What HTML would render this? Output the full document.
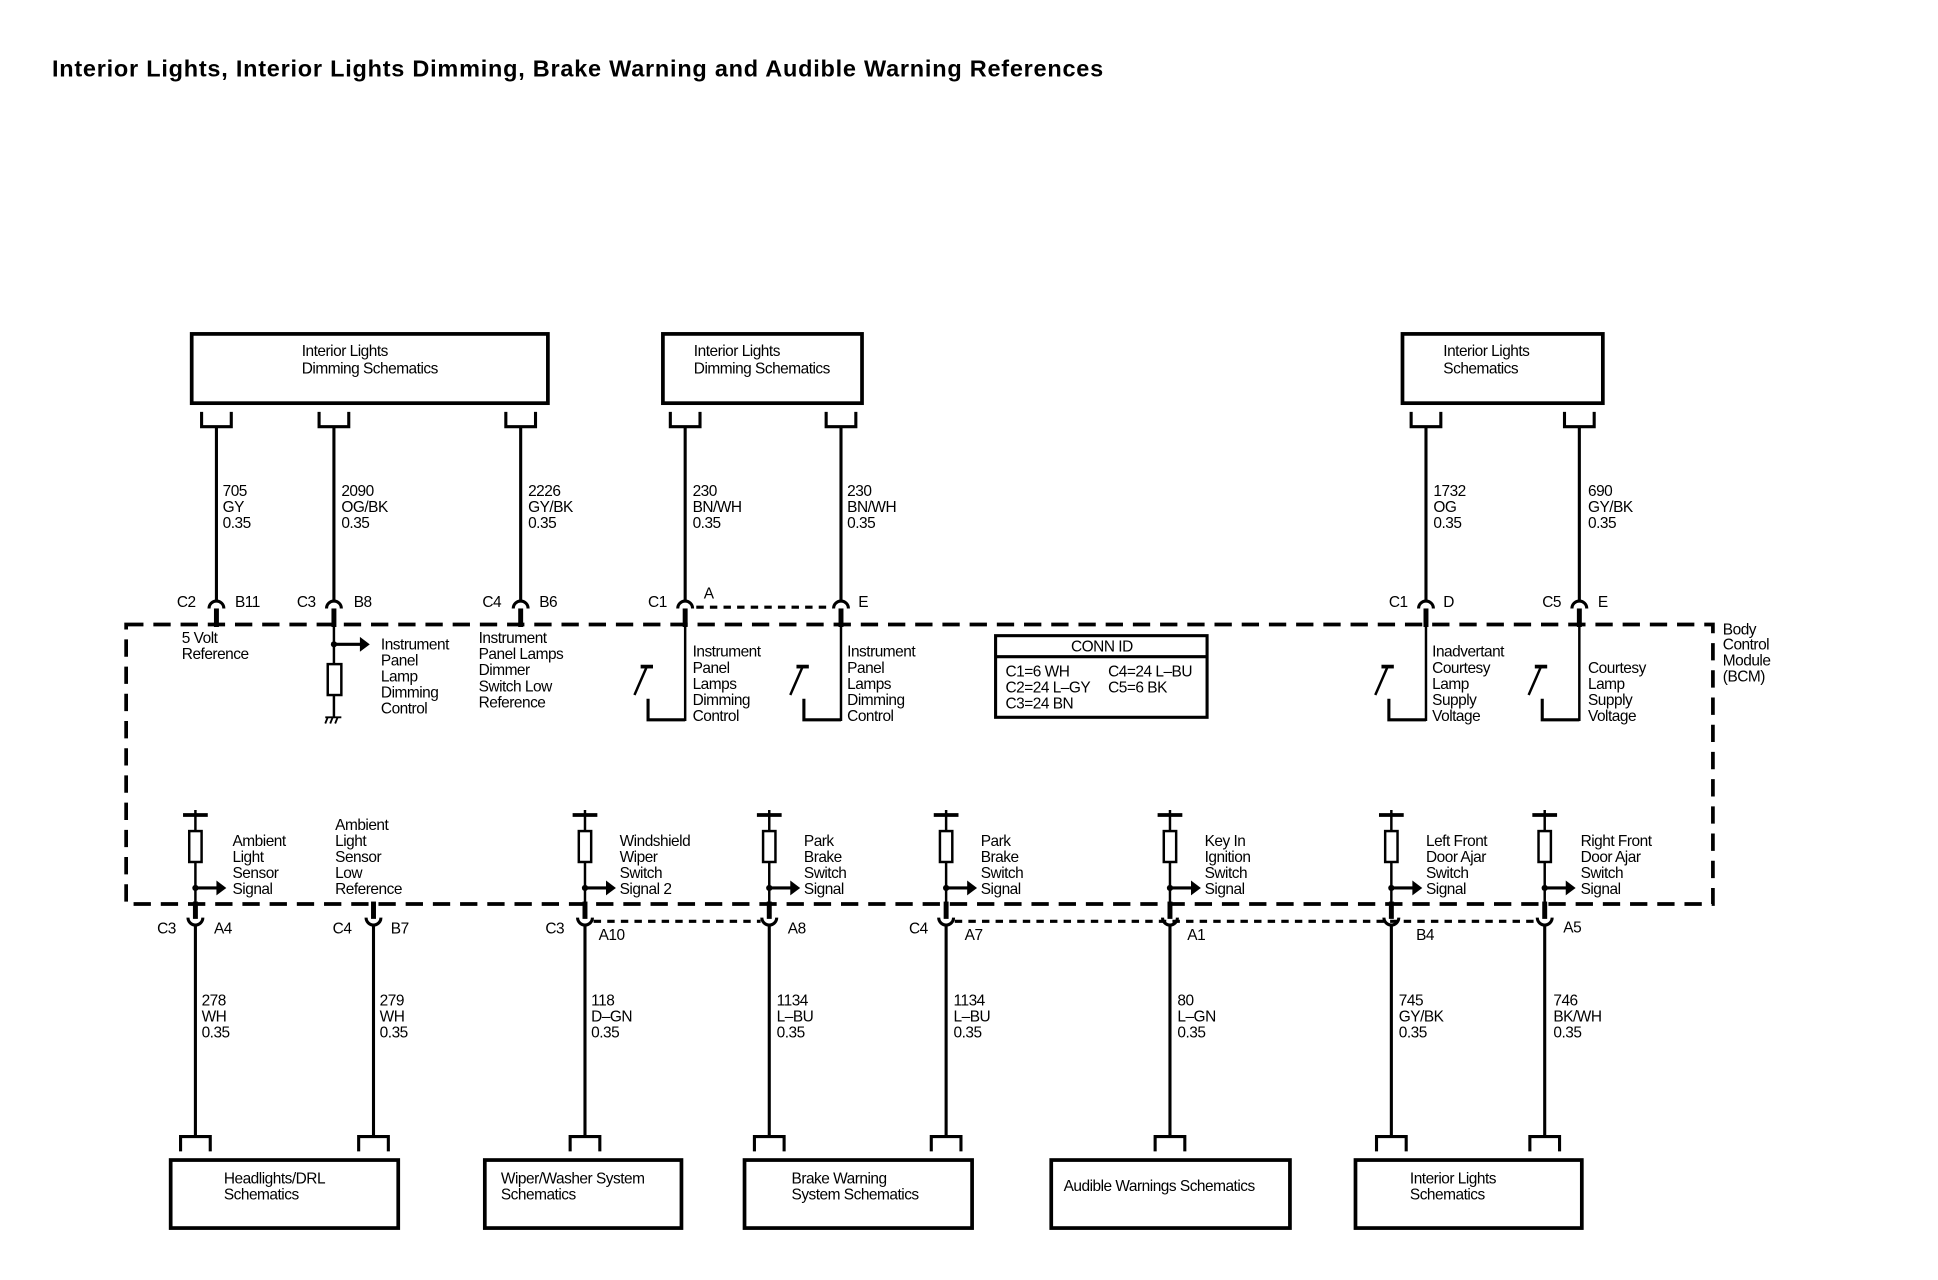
<!DOCTYPE html>
<html><head><meta charset="utf-8"><style>
html,body{margin:0;padding:0;background:#fff;width:1938px;height:1280px;overflow:hidden}
svg text{font-family:"Liberation Sans",Arial,sans-serif;font-size:12.5px;fill:#000;letter-spacing:-0.4px}
</style></head><body>
<svg width="1938" height="1280" viewBox="0 0 1567 1035" preserveAspectRatio="none" xmlns="http://www.w3.org/2000/svg">
<defs>
<g id="topstub"><path d="M-12,333 V345 H12 V333" fill="none" stroke="#000" stroke-width="2.5"/></g>
<g id="botstub"><path d="M-12,931 V919 H12 V931" fill="none" stroke="#000" stroke-width="2.5"/></g>
<g id="topconn"><path d="M-6,492 A6,6 0 0 1 6,492" fill="none" stroke="#000" stroke-width="2.5"/><line x1="0" y1="492" x2="0" y2="507" stroke="#000" stroke-width="4"/></g>
<g id="botconn"><line x1="0" y1="729" x2="0" y2="743" stroke="#000" stroke-width="4"/><path d="M-6,742 A6,6 0 0 0 6,742" fill="none" stroke="#000" stroke-width="2.5"/><line x1="0" y1="748" x2="0" y2="919" stroke="#000" stroke-width="2.5"/></g>
<g id="sens"><line x1="-10" y1="659" x2="10" y2="659" stroke="#000" stroke-width="3"/><line x1="0" y1="655" x2="0" y2="731" stroke="#000" stroke-width="2"/><rect x="-5" y="672" width="10" height="25" fill="#fff" stroke="#000" stroke-width="2"/><circle cx="0" cy="718" r="2.5"/><line x1="0" y1="718" x2="18" y2="718" stroke="#000" stroke-width="2.5"/><path d="M17,712 L25,718 L17,724 Z"/></g>
<g id="sw"><line x1="-36" y1="539" x2="-26" y2="539" stroke="#000" stroke-width="3"/><line x1="-31" y1="539" x2="-41" y2="562" stroke="#000" stroke-width="2"/><path d="M-30,565 V582 H0" fill="none" stroke="#000" stroke-width="2.5"/></g>
</defs>
<text x="42" y="62" textLength="850" style="font-size:19px;font-weight:bold;letter-spacing:0">Interior Lights, Interior Lights Dimming, Brake Warning and Audible Warning References</text>

<g fill="none" stroke="#000" stroke-width="3">
<rect x="155" y="270" width="288" height="56"/>
<rect x="536" y="270" width="161" height="56"/>
<rect x="1134" y="270" width="162" height="56"/>
<rect x="138" y="938" width="184" height="55"/>
<rect x="392" y="938" width="159" height="55"/>
<rect x="602" y="938" width="184" height="55"/>
<rect x="850" y="938" width="193" height="55"/>
<rect x="1096" y="938" width="183" height="55"/>
</g>
<text x="244" y="288">Interior Lights</text><text x="244" y="302">Dimming Schematics</text>
<text x="561" y="288">Interior Lights</text><text x="561" y="302">Dimming Schematics</text>
<text x="1167" y="288">Interior Lights</text><text x="1167" y="302">Schematics</text>
<text x="181" y="957">Headlights/DRL</text><text x="181" y="970">Schematics</text>
<text x="405" y="957">Wiper/Washer System</text><text x="405" y="970">Schematics</text>
<text x="640" y="957">Brake Warning</text><text x="640" y="970">System Schematics</text>
<text x="860" y="963">Audible Warnings Schematics</text>
<text x="1140" y="957">Interior Lights</text><text x="1140" y="970">Schematics</text>

<rect x="102" y="505" width="1283" height="226" fill="none" stroke="#000" stroke-width="3" stroke-dasharray="14,8"/>
<text x="1393" y="513">Body</text><text x="1393" y="525">Control</text><text x="1393" y="538">Module</text><text x="1393" y="551">(BCM)</text>

<g stroke="#000" stroke-width="2.5">
<line x1="175" y1="345" x2="175" y2="486"/><line x1="270" y1="345" x2="270" y2="486"/><line x1="421" y1="345" x2="421" y2="486"/>
<line x1="554" y1="345" x2="554" y2="486"/><line x1="680" y1="345" x2="680" y2="486"/>
<line x1="1153" y1="345" x2="1153" y2="486"/><line x1="1277" y1="345" x2="1277" y2="486"/>
</g>
<use href="#topstub" x="175"/><use href="#topstub" x="270"/><use href="#topstub" x="421"/><use href="#topstub" x="554"/><use href="#topstub" x="680"/><use href="#topstub" x="1153"/><use href="#topstub" x="1277"/>
<use href="#topconn" x="175"/><use href="#topconn" x="270"/><use href="#topconn" x="421"/><use href="#topconn" x="554"/><use href="#topconn" x="680"/><use href="#topconn" x="1153"/><use href="#topconn" x="1277"/>
<line x1="563" y1="491" x2="672" y2="491" stroke="#000" stroke-width="2.5" stroke-dasharray="6,5"/>

<text x="180" y="401">705</text><text x="180" y="414">GY</text><text x="180" y="427">0.35</text>
<text x="276" y="401">2090</text><text x="276" y="414">OG/BK</text><text x="276" y="427">0.35</text>
<text x="427" y="401">2226</text><text x="427" y="414">GY/BK</text><text x="427" y="427">0.35</text>
<text x="560" y="401">230</text><text x="560" y="414">BN/WH</text><text x="560" y="427">0.35</text>
<text x="685" y="401">230</text><text x="685" y="414">BN/WH</text><text x="685" y="427">0.35</text>
<text x="1159" y="401">1732</text><text x="1159" y="414">OG</text><text x="1159" y="427">0.35</text>
<text x="1284" y="401">690</text><text x="1284" y="414">GY/BK</text><text x="1284" y="427">0.35</text>

<text x="143" y="491">C2</text><text x="190" y="491">B11</text>
<text x="240" y="491">C3</text><text x="286" y="491">B8</text>
<text x="390" y="491">C4</text><text x="436" y="491">B6</text>
<text x="524" y="491">C1</text><text x="569" y="484">A</text>
<text x="694" y="491">E</text>
<text x="1123" y="491">C1</text><text x="1167" y="491">D</text>
<text x="1247" y="491">C5</text><text x="1292" y="491">E</text>

<text x="147" y="520">5 Volt</text><text x="147" y="533">Reference</text>
<g stroke="#000" stroke-width="2"><line x1="270" y1="505" x2="270" y2="580"/><line x1="270" y1="521" x2="292" y2="521" stroke-width="2.5"/></g>
<circle cx="270" cy="521" r="2.5"/><path d="M291,515 L299,521 L291,527 Z"/>
<rect x="265" y="537" width="11" height="25" fill="#fff" stroke="#000" stroke-width="2"/>
<g stroke="#000" stroke-width="1.5"><line x1="263" y1="580" x2="276" y2="580"/><line x1="265" y1="580" x2="263" y2="585"/><line x1="269" y1="580" x2="267" y2="585"/><line x1="273" y1="580" x2="271" y2="585"/></g>
<text x="308" y="525">Instrument</text><text x="308" y="538">Panel</text><text x="308" y="551">Lamp</text><text x="308" y="564">Dimming</text><text x="308" y="577">Control</text>
<text x="387" y="520">Instrument</text><text x="387" y="533">Panel Lamps</text><text x="387" y="546">Dimmer</text><text x="387" y="559">Switch Low</text><text x="387" y="572">Reference</text>
<line x1="554" y1="505" x2="554" y2="583" stroke="#000" stroke-width="2"/><use href="#sw" x="554"/>
<line x1="680" y1="505" x2="680" y2="583" stroke="#000" stroke-width="2"/><use href="#sw" x="680"/>
<text x="560" y="531">Instrument</text><text x="560" y="544">Panel</text><text x="560" y="557">Lamps</text><text x="560" y="570">Dimming</text><text x="560" y="583">Control</text>
<text x="685" y="531">Instrument</text><text x="685" y="544">Panel</text><text x="685" y="557">Lamps</text><text x="685" y="570">Dimming</text><text x="685" y="583">Control</text>
<line x1="1153" y1="505" x2="1153" y2="583" stroke="#000" stroke-width="2"/><use href="#sw" x="1153"/>
<line x1="1277" y1="505" x2="1277" y2="583" stroke="#000" stroke-width="2"/><use href="#sw" x="1277"/>
<text x="1158" y="531">Inadvertant</text><text x="1158" y="544">Courtesy</text><text x="1158" y="557">Lamp</text><text x="1158" y="570">Supply</text><text x="1158" y="583">Voltage</text>
<text x="1284" y="544">Courtesy</text><text x="1284" y="557">Lamp</text><text x="1284" y="570">Supply</text><text x="1284" y="583">Voltage</text>

<rect x="805" y="514" width="171" height="66" fill="#fff" stroke="#000" stroke-width="2.5"/>
<line x1="805" y1="531" x2="976" y2="531" stroke="#000" stroke-width="2.5"/>
<text x="866" y="527">CONN ID</text>
<text x="813" y="547">C1=6 WH</text><text x="896" y="547">C4=24 L–BU</text>
<text x="813" y="560">C2=24 L–GY</text><text x="896" y="560">C5=6 BK</text>
<text x="813" y="573">C3=24 BN</text>

<use href="#sens" x="158"/><use href="#sens" x="473"/><use href="#sens" x="622"/><use href="#sens" x="765"/><use href="#sens" x="946"/><use href="#sens" x="1125"/><use href="#sens" x="1249"/>
<use href="#botconn" x="158"/><use href="#botconn" x="302"/><use href="#botconn" x="473"/><use href="#botconn" x="622"/><use href="#botconn" x="765"/><use href="#botconn" x="946"/><use href="#botconn" x="1125"/><use href="#botconn" x="1249"/>
<g stroke="#000" stroke-width="2.5" stroke-dasharray="6,5">
<line x1="480" y1="745" x2="615" y2="745"/><line x1="772" y1="745" x2="1242" y2="745"/>
</g>
<use href="#botstub" x="158"/><use href="#botstub" x="302"/><use href="#botstub" x="473"/><use href="#botstub" x="622"/><use href="#botstub" x="765"/><use href="#botstub" x="946"/><use href="#botstub" x="1125"/><use href="#botstub" x="1249"/>

<text x="188" y="684">Ambient</text><text x="188" y="697">Light</text><text x="188" y="710">Sensor</text><text x="188" y="723">Signal</text>
<text x="271" y="671">Ambient</text><text x="271" y="684">Light</text><text x="271" y="697">Sensor</text><text x="271" y="710">Low</text><text x="271" y="723">Reference</text>
<text x="501" y="684">Windshield</text><text x="501" y="697">Wiper</text><text x="501" y="710">Switch</text><text x="501" y="723">Signal 2</text>
<text x="650" y="684">Park</text><text x="650" y="697">Brake</text><text x="650" y="710">Switch</text><text x="650" y="723">Signal</text>
<text x="793" y="684">Park</text><text x="793" y="697">Brake</text><text x="793" y="710">Switch</text><text x="793" y="723">Signal</text>
<text x="974" y="684">Key In</text><text x="974" y="697">Ignition</text><text x="974" y="710">Switch</text><text x="974" y="723">Signal</text>
<text x="1153" y="684">Left Front</text><text x="1153" y="697">Door Ajar</text><text x="1153" y="710">Switch</text><text x="1153" y="723">Signal</text>
<text x="1278" y="684">Right Front</text><text x="1278" y="697">Door Ajar</text><text x="1278" y="710">Switch</text><text x="1278" y="723">Signal</text>

<text x="127" y="755">C3</text><text x="173" y="755">A4</text>
<text x="269" y="755">C4</text><text x="316" y="755">B7</text>
<text x="441" y="755">C3</text><text x="484" y="760">A10</text>
<text x="637" y="755">A8</text>
<text x="735" y="755">C4</text><text x="780" y="760">A7</text>
<text x="960" y="760">A1</text>
<text x="1145" y="760">B4</text>
<text x="1264" y="754">A5</text>

<text x="163" y="813">278</text><text x="163" y="826">WH</text><text x="163" y="839">0.35</text>
<text x="307" y="813">279</text><text x="307" y="826">WH</text><text x="307" y="839">0.35</text>
<text x="478" y="813">118</text><text x="478" y="826">D–GN</text><text x="478" y="839">0.35</text>
<text x="628" y="813">1134</text><text x="628" y="826">L–BU</text><text x="628" y="839">0.35</text>
<text x="771" y="813">1134</text><text x="771" y="826">L–BU</text><text x="771" y="839">0.35</text>
<text x="952" y="813">80</text><text x="952" y="826">L–GN</text><text x="952" y="839">0.35</text>
<text x="1131" y="813">745</text><text x="1131" y="826">GY/BK</text><text x="1131" y="839">0.35</text>
<text x="1256" y="813">746</text><text x="1256" y="826">BK/WH</text><text x="1256" y="839">0.35</text>
</svg>
</body></html>
